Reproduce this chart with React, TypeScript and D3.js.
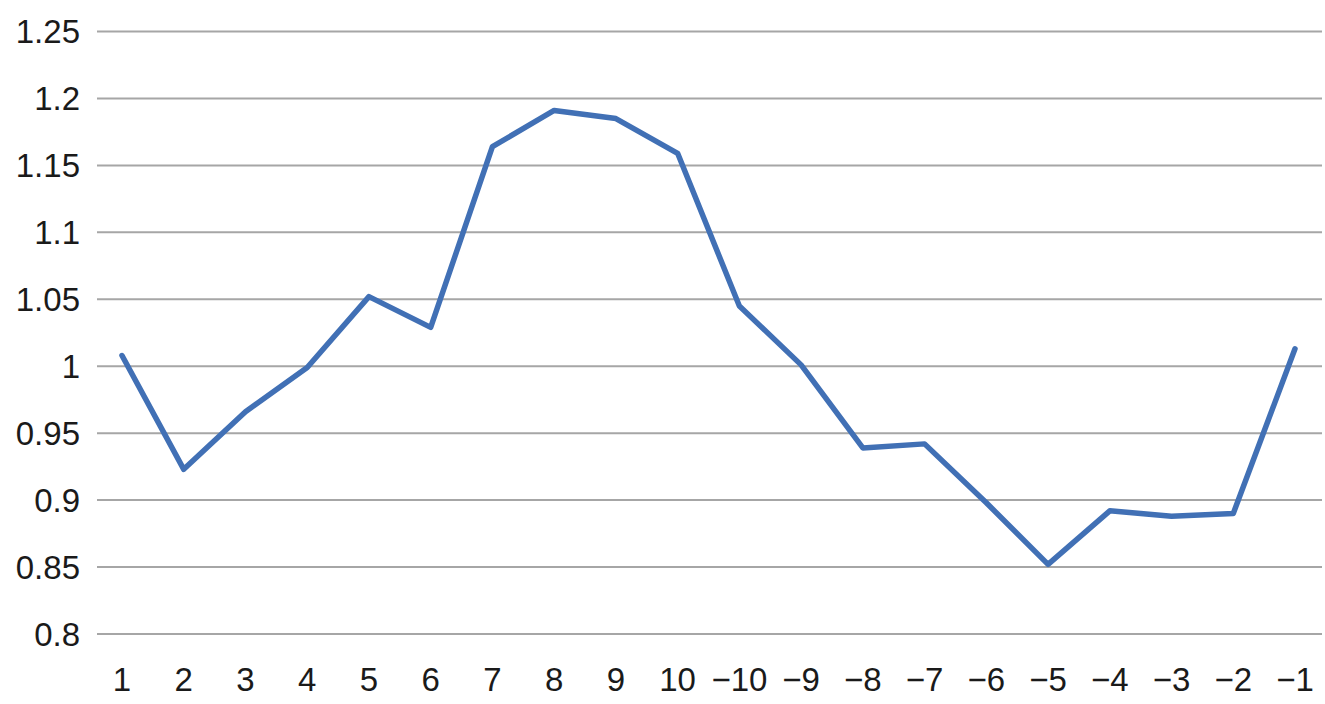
import React from "react";
import * as d3 from "d3";

const categories: string[] = ["1","2","3","4","5","6","7","8","9","10","−10","−9","−8","−7","−6","−5","−4","−3","−2","−1"];
const values: number[] = [1.008,0.923,0.966,0.999,1.052,1.029,1.164,1.191,1.185,1.159,1.045,1.001,0.939,0.942,0.898,0.852,0.892,0.888,0.890,1.013];
const yTicks: number[] = [0.8,0.85,0.9,0.95,1,1.05,1.1,1.15,1.2,1.25];
const yTickLabels: string[] = ["0.8","0.85","0.9","0.95","1","1.05","1.1","1.15","1.2","1.25"];

const W = 1325, H = 704;
const gridLeft = 97, gridRight = 1322;

export default function App() {
  const x = d3.scalePoint<string>().domain(categories).range([122, 1295]);
  const y = d3.scaleLinear().domain([0.8, 1.25]).range([634, 31.5]);
  const line = d3.line<number>()
    .x((_, i) => x(categories[i]) as number)
    .y((d) => y(d));
  const font = "'Liberation Sans', Arial, Helvetica, sans-serif";
  return (
    <svg width={W} height={H} style={{ position: "absolute", left: 0, top: 0, background: "#fff" }}>
      {yTicks.map((t, i) => (
        <g key={i}>
          <line x1={gridLeft} x2={gridRight} y1={y(t)} y2={y(t)} stroke="#a6a6a6" strokeWidth={2} />
          <text x={80} y={y(t)} dy="0.36em" textAnchor="end" fontFamily={font} fontSize={33} fill="#1a1a1a">
            {yTickLabels[i]}
          </text>
        </g>
      ))}
      <path d={line(values) || ""} fill="none" stroke="#4170b5" strokeWidth={5.5} strokeLinejoin="round" strokeLinecap="round" />
      {categories.map((c) => (
        <text key={c} x={x(c)} y={691} textAnchor="middle" fontFamily={font} fontSize={33} fill="#1a1a1a">
          {c}
        </text>
      ))}
    </svg>
  );
}
